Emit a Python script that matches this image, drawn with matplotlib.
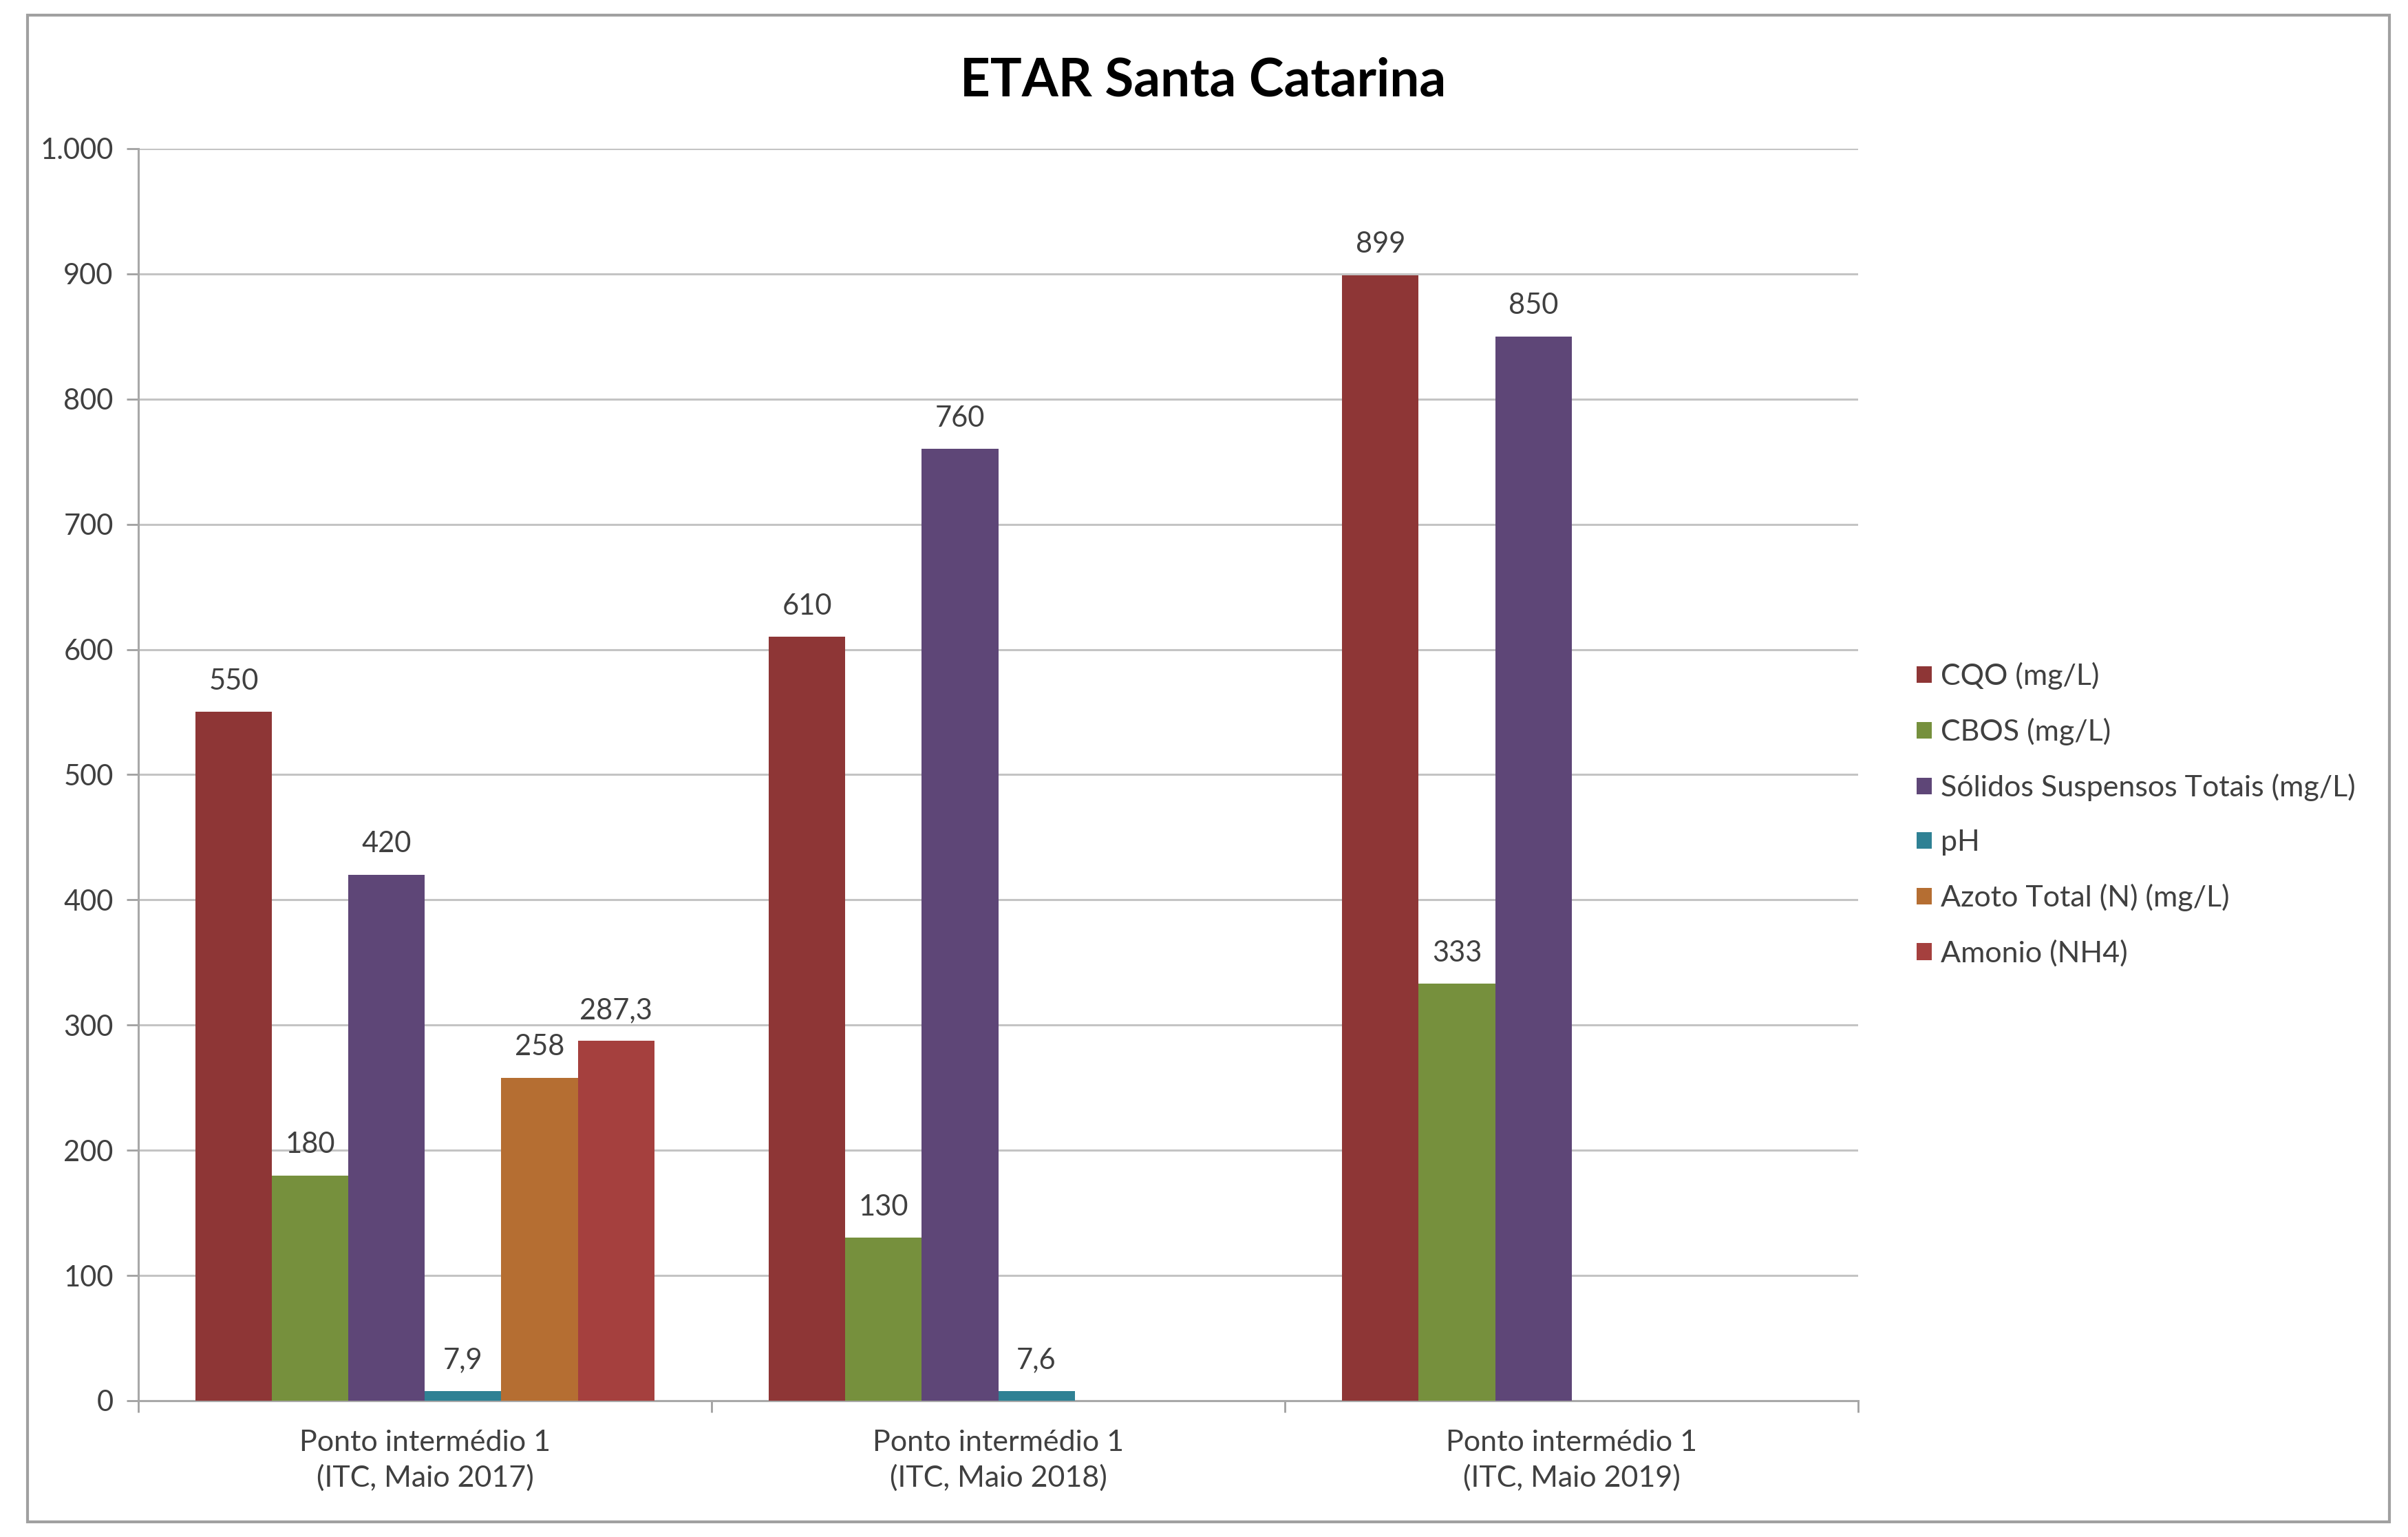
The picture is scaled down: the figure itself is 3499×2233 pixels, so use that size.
#!/usr/bin/python3

import numpy as np
import matplotlib
matplotlib.use('Agg')
import matplotlib.pyplot as plt
from matplotlib.patches import Rectangle

# data
categories = ['Ponto intermédio 1\n(ITC, Maio 2017)',
              'Ponto intermédio 1\n(ITC, Maio 2018)',
              'Ponto intermédio 1\n(ITC, Maio 2019)']
series_names = ['CQO (mg/L)', 'CBOS (mg/L)', 'Sólidos Suspensos Totais (mg/L)',
                'pH', 'Azoto Total (N) (mg/L)', 'Amonio (NH4)']
cqo = [550, 610, 899]
cbos = [180, 130, 333]
sst = [420, 760, 850]
ph = [7.9, 7.6, np.nan]
azoto = [258, np.nan, np.nan]
amonio = [287.3, np.nan, np.nan]
y_ticks = [0, 100, 200, 300, 400, 500, 600, 700, 800, 900, 1000]
y_tick_labels = ['0', '100', '200', '300', '400', '500', '600', '700', '800', '900', '1.000']

colors = ['#8E3636', '#76903D', '#5E4677', '#2F8194', '#B56E32', '#A5403E']
text_col = '#404040'


def fmt(v):
	''' Excel style number with comma decimals'''
	if float(v).is_integer():
		return '{:d}'.format(int(v))
	return '{:.1f}'.format(v).replace('.', ',')


def main():
	plt.rcParams['font.family'] = ['Lato', 'DejaVu Sans']

	fig = plt.figure(figsize=(34.99, 22.33), dpi=100)
	ax = fig.add_axes([0.0574, 0.0887, 0.7143, 0.8146])

	# grey frame round the whole chart
	fig.patches.append(Rectangle((0.0115, 0.01), 0.9808, 0.98, transform=fig.transFigure,
		fill=False, edgecolor='#A0A0A0', linewidth=3))

	all_series = [cqo, cbos, sst, ph, azoto, amonio]
	x = np.arange(len(categories))
	w = 0.8 / len(all_series)

	for j, vals in enumerate(all_series):
		pos = x - 0.4 + w * (j + 0.5)
		ax.bar(pos, vals, width=w, color=colors[j], label=series_names[j], zorder=3)
		for p, v in zip(pos, vals):
			if np.isnan(v):
				continue
			ax.text(p, v + 14, fmt(v), ha='center', va='bottom', fontsize=30, color=text_col)

	ax.set_xlim(-0.5, 2.5)
	ax.set_ylim(0, 1000)
	ax.set_yticks(y_ticks)
	ax.set_yticklabels(y_tick_labels)
	ax.set_xticks(x)
	ax.set_xticklabels(categories, linespacing=1.4)
	ax.set_xticks([-0.5, 0.5, 1.5, 2.5], minor=True)
	ax.tick_params(axis='x', which='major', length=0, pad=30, labelsize=31, labelcolor=text_col)
	ax.tick_params(axis='x', which='minor', length=12, width=2, color='#A0A0A0', direction='out')
	ax.tick_params(axis='y', length=12, width=2, color='#A0A0A0', pad=14, labelsize=30, labelcolor=text_col)

	ax.grid(axis='y', color='#C4C4C4', linewidth=2.2, zorder=0)
	for s in ['top', 'right']:
		ax.spines[s].set_visible(False)
	for s in ['left', 'bottom']:
		ax.spines[s].set_color('#A8A8A8')
		ax.spines[s].set_linewidth(2.2)

	fig.suptitle('ETAR Santa Catarina', x=0.4995, y=0.963, fontsize=55, fontweight='bold', color='#000000')

	fig.legend(loc='center left', bbox_to_anchor=(0.785, 0.47), frameon=False, fontsize=31,
		handlelength=0.5, handleheight=0.5, handletextpad=0.3, labelspacing=0.95,
		labelcolor=text_col)

	fig.savefig('out.png', dpi=100, facecolor='white')


if __name__ == '__main__':
	main()
